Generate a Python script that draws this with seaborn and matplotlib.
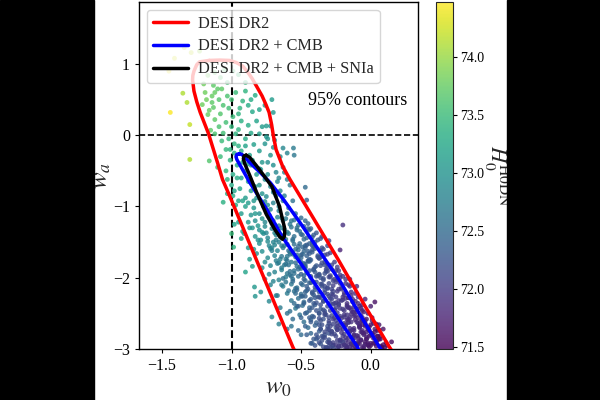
import matplotlib
matplotlib.use("Agg")
import matplotlib.pyplot as plt
from matplotlib.patches import Rectangle
import pandas as pd
import seaborn as sns

sns.set_style("ticks")
plt.rcParams["font.family"] = ["Liberation Serif", "DejaVu Serif"]
plt.rcParams["mathtext.fontset"] = "stix"

# MCMC-like samples: one row of each list per group of ten points
w0 = [
    -1.44, -1.41, -1.45, -1.34, -1.29, -1.23, -1.35, -1.32, -1.30, -1.30,
    -1.14, -1.12, -1.07, -1.18, -1.14, -1.19, -1.13, -1.09, -1.17, -1.21,
    -1.12, -1.05, -0.99, -1.17, -1.08, -0.95, -1.20, -1.13, -1.03, -0.90,
    -0.97, -0.90, -0.83, -0.92, -0.86, -0.71, -0.94, -0.85, -0.75, -0.70,
    -1.06, -1.02, -1.08, -1.12, -1.04, -0.99, -1.09, -1.00, -1.15, -1.06,
    -0.93, -0.88, -0.82, -0.78, -0.72, -0.95, -0.86, -0.80, -0.90, -0.75,
    -1.07, -1.02, -0.98, -1.04, -0.98, -1.08, -1.01, -1.10, -1.04, -0.96,
    -0.90, -0.84, -0.76, -0.70, -0.80, -0.72, -0.65, -0.60, -0.555, -0.55,
    -0.85, -0.78, -0.70, -0.63, -0.90, -0.82, -0.74, -0.66, -0.96, -0.88,
    -1.00, -0.94, -0.86, -0.80, -0.72, -0.65, -0.58, -0.90, -0.82, -0.75,
    -1.06, -0.97, -0.90, -0.84, -0.77, -0.70, -0.63, -0.56, -0.93, -0.86,
    -0.80, -0.73, -0.66, -0.60, -0.54, -0.88, -0.83, -0.76, -0.70, -0.63,
    -0.47, -0.46, -0.20, -0.22, 0.03, 0.15, 0.12, -0.985, -1.00, -0.90,
    -0.835, -0.83, -0.79, -0.73, -0.71, -0.66, -0.57, -0.87, -0.85, -0.93,
    -0.85, -0.80, -0.76, -0.71, -0.66, -0.62, -0.57, -0.53, -0.48, -0.43,
    -0.83, -0.77, -0.74, -0.68, -0.65, -0.59, -0.55, -0.50, -0.46, -0.41,
    -0.80, -0.74, -0.69, -0.66, -0.60, -0.56, -0.51, -0.47, -0.42, -0.38,
    -0.78, -0.72, -0.67, -0.63, -0.58, -0.54, -0.49, -0.45, -0.40, -0.36,
    -0.74, -0.69, -0.65, -0.60, -0.56, -0.52, -0.46, -0.43, -0.38, -0.33,
    -0.72, -0.66, -0.62, -0.57, -0.53, -0.48, -0.44, -0.39, -0.35, -0.31,
    -0.69, -0.64, -0.60, -0.55, -0.50, -0.46, -0.41, -0.37, -0.32, -0.28,
    -0.66, -0.61, -0.56, -0.52, -0.47, -0.43, -0.38, -0.34, -0.30, -0.26,
    -0.63, -0.57, -0.53, -0.49, -0.44, -0.40, -0.35, -0.31, -0.27, -0.22,
    -0.60, -0.55, -0.50, -0.46, -0.41, -0.37, -0.33, -0.28, -0.24, -0.19,
    -0.57, -0.52, -0.48, -0.43, -0.38, -0.34, -0.29, -0.25, -0.20, -0.16,
    -0.54, -0.49, -0.44, -0.40, -0.36, -0.31, -0.27, -0.22, -0.17, -0.12,
    -0.51, -0.46, -0.42, -0.37, -0.33, -0.28, -0.24, -0.19, -0.14, -0.10,
    -0.48, -0.43, -0.39, -0.34, -0.30, -0.25, -0.21, -0.16, -0.11, -0.07,
    -0.45, -0.40, -0.36, -0.31, -0.27, -0.22, -0.18, -0.13, -0.08, -0.04,
    -0.43, -0.37, -0.33, -0.28, -0.24, -0.19, -0.15, -0.10, -0.06, -0.01,
    -0.39, -0.34, -0.30, -0.25, -0.21, -0.16, -0.12, -0.07, -0.03, 0.02,
    -0.36, -0.31, -0.27, -0.22, -0.18, -0.13, -0.09, -0.05, 0.00, 0.04,
    -0.32, -0.27, -0.24, -0.19, -0.15, -0.11, -0.06, -0.02, 0.03, 0.07,
    -0.30, -0.25, -0.20, -0.16, -0.12, -0.08, -0.04, 0.01, 0.05, 0.09,
    -0.27, -0.22, -0.17, -0.13, -0.09, -0.05, -0.01, 0.03, 0.07, 0.11,
    # second batch of samples
    -0.62, -0.98, -0.76, -0.68, -0.92, -0.60, -0.84, -0.74, -0.66, -0.59,
    -1.00, -0.95, -0.88, -0.80, -0.76, -1.10, -1.03, -1.16, -1.12, -0.97,
    -0.93, -0.87, -0.74, -0.69, -0.63, -1.03, -1.16, -0.92, -0.99, -0.79,
    -0.81, -0.71, -0.64, -0.57, -0.50, -0.92, -0.78, -0.69, -0.52, -0.45,
    -0.79, -0.73, -0.61, -0.51, -0.44, -0.70, -0.63, -0.48, -0.39, -0.84,
    -0.71, -0.64, -0.58, -0.52, -0.44, -0.36, -0.76, -0.61, -0.49, -0.41,
    -0.68, -0.59, -0.54, -0.42, -0.34, -0.73, -0.64, -0.50, -0.37, -0.31,
    -0.70, -0.58, -0.51, -0.45, -0.36, -0.29, -0.64, -0.55, -0.47, -0.33,
    -0.61, -0.54, -0.48, -0.40, -0.32, -0.26, -0.67, -0.43, -0.36, -0.24,
    -0.59, -0.50, -0.45, -0.39, -0.29, -0.23, -0.55, -0.42, -0.33, -0.20,
    -0.53, -0.47, -0.36, -0.31, -0.25, -0.18, -0.58, -0.41, -0.27, -0.15,
    -0.56, -0.44, -0.39, -0.30, -0.23, -0.14, -0.50, -0.34, -0.21, -0.11,
    -0.47, -0.41, -0.32, -0.26, -0.20, -0.13, -0.52, -0.36, -0.17, -0.08,
    -0.46, -0.35, -0.29, -0.23, -0.16, -0.09, -0.41, -0.27, -0.12, -0.05,
    -0.43, -0.38, -0.26, -0.19, -0.14, -0.06, -0.33, -0.22, -0.10, -0.03,
    -0.40, -0.30, -0.24, -0.17, -0.11, -0.04, -0.35, -0.20, -0.08, 0.00,
    -0.37, -0.28, -0.21, -0.15, -0.08, -0.02, -0.32, -0.18, -0.05, 0.03,
    -0.34, -0.29, -0.22, -0.12, -0.06, 0.01, -0.25, -0.16, -0.03, 0.05,
    -0.31, -0.23, -0.14, -0.07, -0.01, 0.06, -0.27, -0.18, -0.10, 0.02,
    -0.35, -0.28, -0.17, -0.10, -0.04, 0.08, -0.21, -0.13, -0.02, 0.10,
    -0.60, -0.50, -0.42, -0.30, -0.18, -0.10, -0.24, -0.15, -0.33, -0.06,
    # third batch of samples
    -0.72, -0.67, -0.61, -0.55, -0.78, -0.69, -0.58, -0.47, -0.83, -0.64,
    -0.60, -0.53, -0.45, -0.75, -0.68, -0.56, -0.49, -0.42, -0.81, -0.62,
    -0.55, -0.47, -0.40, -0.35, -0.71, -0.64, -0.56, -0.50, -0.44, -0.37,
    -0.31, -0.67, -0.61, -0.54, -0.47, -0.40, -0.33, -0.28, -0.58, -0.50,
    -0.44, -0.37, -0.31, -0.25, -0.63, -0.56, -0.48, -0.41, -0.34, -0.27,
    -0.22, -0.53, -0.46, -0.40, -0.35, -0.28, -0.21, -0.16, -0.49, -0.42,
    -0.37, -0.31, -0.25, -0.19, -0.14, -0.09, -0.52, -0.44, -0.36, -0.29,
    -0.23, -0.17, -0.11, -0.06, -0.47, -0.39, -0.33, -0.26, -0.19, -0.13,
    -0.07, -0.02, -0.43, -0.37, -0.30, -0.23, -0.16, -0.09, -0.04, 0.01,
    -0.36, -0.29, -0.24, -0.18, -0.12, -0.06, -0.01, 0.04, -0.39, -0.33,
    -0.26, -0.20, -0.15, -0.09, -0.03, 0.02, 0.06, -0.30, -0.24, -0.19,
    -0.13, -0.08, -0.03, 0.00, 0.05, 0.09, -0.29, -0.23, -0.17, -0.11,
    -0.99, -0.93, -0.86, -0.80, -0.74, -0.68, -1.01, -0.95, -0.89, -0.83,
    -1.03, -0.95, -0.88, -0.78, -0.70, -0.62, -0.95, -0.87, -0.76, -0.67,
    -0.98, -0.91, -0.88, -0.82, -0.78, -0.76, -0.72, -0.68, -0.65, -0.60,
    # fourth batch of samples
    -0.52, -0.46, -0.42, -0.50, -0.44, -0.38, -0.47, -0.41, -0.36, -0.31,
    -0.39, -0.33, -0.29, -0.36, -0.30, -0.24, -0.33, -0.27, -0.21, -0.18,
    -0.28, -0.23, -0.18, -0.13, -0.25, -0.20, -0.15, -0.10, -0.22, -0.17,
    -0.12, -0.07, -0.19, -0.14, -0.09, -0.04, -0.12, -0.07, -0.02, 0.00,
    -0.59, -0.53, -0.48, -0.60, -0.52, -0.45, -0.57, -0.50, -0.43, -0.54,
    -0.47, -0.40, -0.48, -0.42, -0.34, -0.44, -0.37, -0.30, -0.37, -0.31,
    0.02, 0.05, 0.07, -0.02, 0.04, 0.08, 0.06, -0.05, -0.09, -0.14,
    -0.42, -0.35, -0.30, -0.22, -0.15, -0.10, -0.16, -0.04, 0.00, -0.06,
]
wa = [
    0.32, 1.08, 0.90, 1.23, 1.16, 1.18, 0.59, 0.46, 0.15, -0.34,
    0.55, 0.60, 0.65, 0.50, 0.46, 0.60, 0.39, 0.50, 0.29, 0.43,
    0.88, 0.92, 0.90, 0.84, 0.81, 0.85, 0.72, 0.70, 0.74, 0.74,
    0.60, 0.62, 0.56, 0.48, 0.50, 0.50, 0.38, 0.33, 0.13, 0.32,
    0.42, 0.38, 0.30, 0.22, 0.18, 0.26, 0.12, 0.12, 0.07, 0.03,
    0.20, 0.14, 0.20, 0.12, 0.13, 0.08, 0.03, 0.02, -0.05, -0.02,
    -0.08, -0.05, -0.12, -0.20, -0.25, -0.30, -0.35, -0.45, -0.50, -0.42,
    -0.15, -0.13, -0.12, -0.17, -0.22, -0.28, -0.30, -0.25, -0.18, -0.28,
    -0.35, -0.38, -0.42, -0.45, -0.50, -0.55, -0.55, -0.60, -0.60, -0.65,
    -0.70, -0.75, -0.78, -0.70, -0.72, -0.78, -0.70, -0.88, -0.88, -0.86,
    -0.94, -0.98, -1.00, -1.02, -1.00, -0.95, -0.92, -0.92, -1.10, -1.12,
    -1.10, -1.12, -1.06, -1.10, -1.10, -1.22, -1.20, -1.22, -1.20, -1.20,
    -0.73, -0.91, -1.26, -1.61, -2.34, -2.90, -2.95, -1.57, -1.38, -1.92,
    -2.13, -2.26, -2.20, -2.33, -2.55, -2.65, -2.68, -1.74, -1.84, -1.45,
    -1.30, -1.33, -1.28, -1.31, -1.27, -1.32, -1.29, -1.33, -1.28, -1.31,
    -1.42, -1.38, -1.44, -1.40, -1.43, -1.38, -1.42, -1.39, -1.44, -1.40,
    -1.52, -1.49, -1.54, -1.50, -1.53, -1.48, -1.52, -1.55, -1.50, -1.47,
    -1.63, -1.59, -1.62, -1.58, -1.64, -1.60, -1.57, -1.63, -1.59, -1.62,
    -1.72, -1.69, -1.74, -1.70, -1.67, -1.73, -1.69, -1.75, -1.71, -1.68,
    -1.83, -1.79, -1.82, -1.78, -1.84, -1.80, -1.77, -1.83, -1.79, -1.81,
    -1.92, -1.89, -1.94, -1.90, -1.87, -1.93, -1.89, -1.95, -1.91, -1.88,
    -2.03, -1.99, -2.02, -1.98, -2.04, -2.00, -1.97, -2.03, -1.99, -2.02,
    -2.12, -2.09, -2.14, -2.10, -2.07, -2.13, -2.09, -2.15, -2.11, -2.08,
    -2.22, -2.19, -2.23, -2.18, -2.24, -2.20, -2.17, -2.23, -2.19, -2.21,
    -2.32, -2.29, -2.34, -2.30, -2.27, -2.33, -2.29, -2.35, -2.31, -2.28,
    -2.43, -2.39, -2.42, -2.38, -2.44, -2.40, -2.37, -2.43, -2.39, -2.41,
    -2.52, -2.49, -2.54, -2.50, -2.47, -2.53, -2.49, -2.55, -2.51, -2.48,
    -2.62, -2.59, -2.63, -2.58, -2.64, -2.60, -2.57, -2.63, -2.59, -2.61,
    -2.70, -2.67, -2.72, -2.68, -2.65, -2.71, -2.67, -2.73, -2.69, -2.66,
    -2.78, -2.75, -2.80, -2.76, -2.73, -2.79, -2.75, -2.81, -2.77, -2.74,
    -2.86, -2.83, -2.87, -2.82, -2.88, -2.84, -2.81, -2.87, -2.83, -2.85,
    -2.93, -2.90, -2.95, -2.91, -2.88, -2.94, -2.90, -2.96, -2.92, -2.89,
    -2.98, -2.95, -2.99, -2.94, -2.97, -2.93, -2.98, -2.95, -2.92, -2.96,
    -2.78, -2.70, -2.90, -2.62, -2.85, -2.68, -2.93, -2.60, -2.82, -2.72,
    -2.99, -2.88, -2.96, -2.84, -2.92, -2.80, -2.97, -2.76, -2.86, -2.91,
    # second batch of samples
    -0.52, -0.78, -0.62, -0.85, -0.38, -0.62, -0.92, -0.98, -1.00, -1.02,
    0.50, 0.30, 0.42, 0.36, 0.42, 0.65, 0.55, 0.35, 0.02, 0.02,
    -0.22, -0.28, -0.05, -0.07, -0.18, -0.62, -0.36, -0.92, -0.85, -0.48,
    -1.27, -1.24, -1.16, -1.20, -1.16, -1.35, -1.36, -1.37, -1.26, -1.24,
    -1.47, -1.55, -1.46, -1.35, -1.33, -1.50, -1.41, -1.46, -1.37, -1.60,
    -1.58, -1.55, -1.67, -1.61, -1.52, -1.45, -1.78, -1.74, -1.67, -1.56,
    -1.76, -1.82, -1.71, -1.64, -1.60, -1.95, -1.86, -1.78, -1.73, -1.55,
    -2.05, -1.96, -1.85, -1.77, -1.71, -1.65, -2.10, -1.94, -1.86, -1.82,
    -2.06, -2.15, -1.97, -1.92, -1.88, -1.78, -2.25, -2.07, -2.00, -1.85,
    -2.18, -2.26, -2.16, -2.06, -1.97, -1.90, -2.36, -2.20, -2.12, -1.98,
    -2.40, -2.26, -2.28, -2.14, -2.06, -2.02, -2.47, -2.36, -2.24, -2.12,
    -2.58, -2.46, -2.35, -2.26, -2.16, -2.25, -2.56, -2.45, -2.32, -2.22,
    -2.68, -2.55, -2.52, -2.36, -2.27, -2.30, -2.74, -2.60, -2.41, -2.40,
    -2.80, -2.66, -2.46, -2.38, -2.42, -2.36, -2.86, -2.58, -2.48, -2.48,
    -2.92, -2.84, -2.56, -2.52, -2.45, -2.56, -2.76, -2.66, -2.62, -2.58,
    -2.95, -2.73, -2.68, -2.59, -2.53, -2.64, -2.88, -2.72, -2.70, -2.66,
    -2.91, -2.79, -2.77, -2.71, -2.66, -2.70, -2.98, -2.84, -2.78, -2.72,
    -2.97, -2.92, -2.87, -2.80, -2.74, -2.78, -2.94, -2.90, -2.86, -2.82,
    -2.99, -2.96, -2.93, -2.88, -2.82, -2.86, -2.91, -2.95, -2.98, -2.92,
    -2.82, -2.75, -2.98, -2.94, -2.90, -2.97, -2.96, -2.99, -2.94, -2.98,
    -2.72, -2.80, -2.92, -2.96, -2.99, -2.99, -2.64, -2.56, -2.52, -2.60,
    # third batch of samples
    -1.04, -1.15, -1.17, -1.19, -1.17, -1.25, -1.25, -1.20, -1.10, -1.30,
    -1.36, -1.30, -1.31, -1.37, -1.47, -1.46, -1.40, -1.43, -1.47, -1.55,
    -1.53, -1.58, -1.50, -1.58, -1.62, -1.70, -1.65, -1.72, -1.66, -1.72,
    -1.67, -1.80, -1.81, -1.79, -1.81, -1.85, -1.78, -1.82, -1.91, -1.95,
    -1.90, -1.96, -1.91, -1.90, -2.01, -2.05, -2.02, -2.06, -2.01, -2.04,
    -2.00, -2.17, -2.12, -2.17, -2.12, -2.16, -2.14, -2.10, -2.26, -2.22,
    -2.27, -2.23, -2.27, -2.24, -2.20, -2.27, -2.40, -2.32, -2.38, -2.36,
    -2.32, -2.36, -2.33, -2.38, -2.50, -2.46, -2.50, -2.45, -2.46, -2.48,
    -2.43, -2.50, -2.62, -2.57, -2.61, -2.56, -2.58, -2.56, -2.60, -2.56,
    -2.72, -2.68, -2.73, -2.66, -2.71, -2.66, -2.69, -2.65, -2.80, -2.84,
    -2.79, -2.82, -2.76, -2.82, -2.76, -2.81, -2.73, -2.91, -2.88, -2.94,
    -2.88, -2.93, -2.86, -2.95, -2.87, -2.94, -2.98, -2.97, -2.99, -2.97,
    -0.55, -0.60, -0.42, -0.47, -0.38, -0.52, -0.20, -0.15, -0.41, -0.72,
    -0.82, -0.92, -0.95, -0.82, -0.80, -0.85, -1.22, -1.30, -0.93, -0.65,
    -1.25, -1.38, -1.58, -1.66, -1.86, -2.02, -2.10, -2.25, -2.42, -2.50,
    # fourth batch of samples
    -1.56, -1.54, -1.61, -1.68, -1.74, -1.69, -1.84, -1.88, -1.83, -1.86,
    -1.98, -1.94, -1.99, -2.09, -2.08, -2.03, -2.21, -2.19, -2.16, -2.08,
    -2.30, -2.37, -2.29, -2.34, -2.42, -2.44, -2.42, -2.44, -2.54, -2.52,
    -2.54, -2.53, -2.64, -2.62, -2.64, -2.68, -2.74, -2.76, -2.72, -2.80,
    -1.62, -1.68, -1.63, -1.76, -1.88, -1.76, -1.98, -2.08, -1.98, -2.22,
    -2.20, -2.28, -2.36, -2.42, -2.33, -2.56, -2.50, -2.56, -2.66, -2.72,
    -2.64, -2.74, -2.82, -2.92, -2.96, -2.99, -2.66, -2.99, -2.85, -2.93,
    -1.55, -1.42, -1.48, -1.96, -2.02, -2.12, -2.28, -2.30, -2.40, -2.46,
]
h0 = [
    74.45, 74.3, 74.4, 74.2, 74.2, 74.0, 74.1, 74.1, 74.2, 74.1,
    73.75, 73.75, 73.7, 73.8, 73.7, 73.8, 73.7, 73.65, 73.75, 73.8,
    73.7, 73.6, 73.55, 73.8, 73.65, 73.5, 73.8, 73.7, 73.55, 73.45,
    73.5, 73.4, 73.3, 73.4, 73.3, 73.1, 73.4, 73.25, 73.1, 73.05,
    73.6, 73.55, 73.65, 73.7, 73.55, 73.5, 73.6, 73.45, 73.7, 73.55,
    73.35, 73.3, 73.2, 73.1, 73.0, 73.4, 73.25, 73.15, 73.3, 73.05,
    73.5, 73.45, 73.4, 73.45, 73.35, 73.5, 73.4, 73.55, 73.45, 73.3,
    73.2, 73.15, 73.0, 72.95, 73.1, 73.0, 72.9, 72.8, 72.7, 72.65,
    73.15, 73.05, 72.95, 72.85, 73.2, 73.1, 72.95, 72.85, 73.3, 73.15,
    73.3, 73.2, 73.1, 73.0, 72.9, 72.8, 72.7, 73.1, 73.0, 72.9,
    73.35, 73.25, 73.15, 73.05, 72.95, 72.8, 72.7, 72.6, 73.1, 73.0,
    72.95, 72.85, 72.75, 72.65, 72.55, 73.05, 72.95, 72.85, 72.75, 72.7,
    72.5, 72.4, 71.9, 71.75, 71.6, 71.55, 71.55, 73.4, 73.5, 73.2,
    73.05, 73.0, 72.95, 72.85, 72.8, 72.75, 72.6, 73.1, 73.1, 73.2,
    73.0, 72.95, 72.9, 72.8, 72.75, 72.7, 72.6, 72.55, 72.45, 72.4,
    73.0, 72.9, 72.85, 72.8, 72.7, 72.65, 72.55, 72.5, 72.4, 72.35,
    72.95, 72.9, 72.8, 72.75, 72.65, 72.6, 72.5, 72.45, 72.35, 72.3,
    72.95, 72.85, 72.8, 72.7, 72.65, 72.55, 72.45, 72.4, 72.3, 72.2,
    72.9, 72.8, 72.75, 72.65, 72.6, 72.5, 72.4, 72.35, 72.25, 72.15,
    72.85, 72.75, 72.7, 72.65, 72.55, 72.45, 72.4, 72.3, 72.2, 72.15,
    72.8, 72.75, 72.65, 72.6, 72.5, 72.45, 72.35, 72.25, 72.15, 72.05,
    72.8, 72.7, 72.6, 72.55, 72.45, 72.4, 72.3, 72.2, 72.1, 72.05,
    72.75, 72.65, 72.55, 72.5, 72.4, 72.3, 72.2, 72.15, 72.05, 71.95,
    72.7, 72.6, 72.5, 72.45, 72.35, 72.25, 72.2, 72.1, 72.0, 71.9,
    72.65, 72.55, 72.5, 72.4, 72.3, 72.2, 72.1, 72.05, 71.95, 71.85,
    72.65, 72.55, 72.45, 72.35, 72.3, 72.2, 72.1, 72.0, 71.9, 71.85,
    72.6, 72.5, 72.4, 72.3, 72.25, 72.15, 72.05, 71.95, 71.85, 71.8,
    72.55, 72.45, 72.35, 72.25, 72.2, 72.1, 72.0, 71.9, 71.8, 71.75,
    72.5, 72.4, 72.3, 72.2, 72.1, 72.05, 71.95, 71.85, 71.75, 71.7,
    72.45, 72.35, 72.25, 72.15, 72.05, 72.0, 71.9, 71.8, 71.75, 71.65,
    72.35, 72.3, 72.2, 72.1, 72.0, 71.9, 71.85, 71.75, 71.7, 71.6,
    72.3, 72.2, 72.15, 72.05, 71.95, 71.85, 71.8, 71.75, 71.65, 71.6,
    72.2, 72.15, 72.05, 72.0, 71.9, 71.85, 71.75, 71.7, 71.6, 71.55,
    72.25, 72.2, 72.1, 72.0, 71.95, 71.85, 71.8, 71.7, 71.65, 71.6,
    72.15, 72.1, 72.0, 71.95, 71.85, 71.8, 71.7, 71.65, 71.6, 71.55,
    # second batch of samples
    72.8, 73.2, 72.95, 72.85, 73.2, 72.75, 73.05, 72.95, 72.8, 72.7,
    73.55, 73.4, 73.3, 73.2, 73.1, 73.7, 73.6, 73.75, 73.6, 73.4,
    73.3, 73.2, 73.0, 72.95, 72.85, 73.4, 73.65, 73.2, 73.3, 73.05,
    73.05, 72.9, 72.8, 72.65, 72.5, 73.2, 73.0, 72.85, 72.55, 72.4,
    72.95, 72.85, 72.7, 72.55, 72.4, 72.8, 72.7, 72.5, 72.3, 73.0,
    72.8, 72.7, 72.6, 72.5, 72.4, 72.25, 72.9, 72.7, 72.5, 72.35,
    72.75, 72.6, 72.55, 72.35, 72.2, 72.8, 72.7, 72.45, 72.25, 72.15,
    72.8, 72.6, 72.45, 72.4, 72.2, 72.1, 72.7, 72.55, 72.4, 72.2,
    72.65, 72.55, 72.45, 72.3, 72.15, 72.05, 72.7, 72.35, 72.25, 72.05,
    72.6, 72.45, 72.35, 72.25, 72.1, 72.0, 72.5, 72.3, 72.15, 71.95,
    72.5, 72.4, 72.2, 72.15, 72.05, 71.95, 72.55, 72.3, 72.05, 71.85,
    72.5, 72.35, 72.25, 72.1, 72.0, 71.85, 72.4, 72.2, 72.0, 71.85,
    72.4, 72.3, 72.15, 72.05, 71.95, 71.85, 72.45, 72.2, 71.95, 71.8,
    72.35, 72.2, 72.1, 72.0, 71.9, 71.8, 72.3, 72.05, 71.85, 71.75,
    72.3, 72.25, 72.05, 71.95, 71.9, 71.75, 72.15, 72.0, 71.85, 71.7,
    72.25, 72.1, 72.0, 71.9, 71.85, 71.7, 72.2, 71.95, 71.8, 71.65,
    72.2, 72.1, 71.95, 71.9, 71.8, 71.7, 72.15, 71.95, 71.75, 71.65,
    72.15, 72.1, 72.0, 71.85, 71.75, 71.65, 72.0, 71.9, 71.7, 71.6,
    72.1, 72.0, 71.85, 71.75, 71.7, 71.6, 72.05, 71.9, 71.8, 71.65,
    72.2, 72.1, 71.9, 71.8, 71.7, 71.55, 71.95, 71.85, 71.7, 71.55,
    72.6, 72.5, 72.35, 72.15, 71.95, 71.8, 72.05, 71.9, 72.2, 71.75,
    # third batch of samples
    72.85, 72.8, 72.7, 72.6, 73.0, 72.8, 72.65, 72.45, 73.05, 72.75,
    72.7, 72.55, 72.4, 72.85, 72.75, 72.55, 72.45, 72.35, 72.95, 72.65,
    72.55, 72.4, 72.3, 72.2, 72.75, 72.65, 72.5, 72.45, 72.35, 72.2,
    72.1, 72.7, 72.6, 72.5, 72.4, 72.3, 72.15, 72.1, 72.55, 72.4,
    72.35, 72.25, 72.15, 72.05, 72.6, 72.5, 72.4, 72.3, 72.2, 72.1,
    72.0, 72.45, 72.35, 72.3, 72.2, 72.1, 71.95, 71.9, 72.4, 72.3,
    72.2, 72.15, 72.05, 71.95, 71.9, 71.8, 72.4, 72.3, 72.2, 72.1,
    72.0, 71.9, 71.85, 71.75, 72.35, 72.25, 72.15, 72.05, 71.95, 71.85,
    71.8, 71.7, 72.3, 72.2, 72.1, 72.0, 71.9, 71.8, 71.75, 71.65,
    72.2, 72.1, 72.05, 71.95, 71.85, 71.75, 71.7, 71.6, 72.25, 72.15,
    72.1, 72.0, 71.9, 71.85, 71.75, 71.65, 71.6, 72.1, 72.05, 71.95,
    71.85, 71.75, 71.7, 71.65, 71.6, 71.55, 72.1, 72.0, 71.9, 71.8,
    73.3, 73.2, 73.1, 73.0, 72.95, 72.85, 73.4, 73.35, 73.15, 73.05,
    73.3, 73.2, 73.1, 73.0, 72.85, 72.75, 73.1, 73.05, 72.95, 72.85,
    73.2, 73.1, 73.05, 72.95, 72.9, 72.85, 72.8, 72.75, 72.7, 72.6,
    # fourth batch of samples
    72.45, 72.35, 72.3, 72.4, 72.35, 72.25, 72.4, 72.3, 72.2, 72.15,
    72.25, 72.2, 72.1, 72.2, 72.15, 72.05, 72.15, 72.1, 72.0, 71.95,
    72.1, 72.05, 71.95, 71.9, 72.05, 72.0, 71.9, 71.85, 72.0, 71.95,
    71.85, 71.8, 71.95, 71.9, 71.85, 71.75, 71.85, 71.8, 71.7, 71.7,
    72.6, 72.5, 72.45, 72.6, 72.5, 72.35, 72.55, 72.45, 72.3, 72.5,
    72.4, 72.3, 72.4, 72.3, 72.2, 72.35, 72.25, 72.15, 72.25, 72.15,
    71.65, 71.6, 71.6, 71.7, 71.6, 71.55, 71.6, 71.75, 71.8, 71.9,
    72.3, 72.2, 72.15, 72.0, 71.9, 71.85, 71.9, 71.75, 71.7, 71.75,
]

# 95% confidence contours, as traced vertices
desi_w0 = [-1.16, -1.085, -1.014, -0.965, -0.92, -0.885, -0.85, -0.815, -0.78, -0.755, -0.73, -0.712, -0.70, -0.68, -0.634, -0.58,
           -0.41, -0.235, -0.04, 0.134, 0.16, -0.54, -0.56, -0.776, -1.014, -1.065, -1.10, -1.135, -1.165, -1.195, -1.225, -1.25, -1.27,
           -1.28, -1.278, -1.27, -1.25, -1.23, -1.16]
desi_wa = [1.05, 1.055, 1.05, 1.02, 0.97, 0.89, 0.79, 0.67, 0.55, 0.44, 0.32, 0.15, 0.0, -0.20, -0.43, -0.62,
           -1.17, -1.74, -2.40, -2.97, -3.05, -3.05, -2.97, -1.96, -0.85, -0.62, -0.39, -0.17, 0.02, 0.17, 0.32, 0.47, 0.62,
           0.78, 0.84, 0.90, 0.99, 1.03, 1.05]
cmb_w0 = [-0.945, -0.925, -0.90, -0.85, -0.79, -0.72, -0.62, -0.51, -0.22, 0.062, 0.09, -0.08, -0.095, -0.36, -0.634, -0.75, -0.87, -0.93, -0.962, -0.968, -0.962, -0.945]
cmb_wa = [-0.26, -0.27, -0.32, -0.42, -0.53, -0.67, -0.92, -1.22, -2.05, -2.97, -3.05, -3.05, -2.97, -2.20, -1.43, -1.03, -0.66, -0.45, -0.34, -0.30, -0.27, -0.26]
sn_w0 = [-0.895, -0.87, -0.82, -0.77, -0.71, -0.655, -0.634, -0.62, -0.618, -0.62, -0.634, -0.655, -0.69, -0.75, -0.82, -0.87, -0.905, -0.915, -0.91, -0.895]
sn_wa = [-0.28, -0.31, -0.43, -0.56, -0.72, -1.00, -1.18, -1.29, -1.36, -1.42, -1.46, -1.42, -1.32, -1.11, -0.80, -0.56, -0.40, -0.33, -0.29, -0.28]

x_ticks = [-1.5, -1.0, -0.5, 0.0]
y_ticks = [-3, -2, -1, 0, 1]
cbar_ticks = [71.5, 72.0, 72.5, 73.0, 73.5, 74.0]

samples = pd.DataFrame({"w0": w0, "wa": wa, "h0": h0})

fig = plt.figure(figsize=(6, 4), dpi=100, facecolor="white")
ax = fig.add_axes([139 / 600, 1 - 349 / 400, 279 / 600, 347 / 400])
cax = fig.add_axes([436 / 600, 1 - 349 / 400, 17 / 600, 347 / 400])

hue_norm = plt.Normalize(71.48, 74.47)
sns.scatterplot(data=samples, x="w0", y="wa", hue="h0", palette="viridis", hue_norm=hue_norm,
                s=12, alpha=0.8, linewidth=0, legend=False, ax=ax, zorder=2)

ax.plot(desi_w0, desi_wa, color="red", lw=2.5, label="DESI DR2", zorder=3)
ax.plot(cmb_w0, cmb_wa, color="blue", lw=2.5, label="DESI DR2 + CMB", zorder=3)
ax.plot(sn_w0, sn_wa, color="black", lw=2.5, label="DESI DR2 + CMB + SNIa", zorder=4)
ax.axhline(0, color="black", ls="--", lw=1.2, zorder=1)
ax.axvline(-1, color="black", ls="--", lw=1.5, zorder=1)

ax.set_xlim(-1.665, 0.34)
ax.set_ylim(-3, 1.87)
ax.set_xticks(x_ticks, [f"\u2212{abs(t):.1f}" if t < 0 else f"{t:.1f}" for t in x_ticks])
ax.set_yticks(y_ticks, [f"\u2212{abs(t)}" if t < 0 else f"{t}" for t in y_ticks])
ax.tick_params(labelsize=11.5, length=3, width=0.8, color="black", labelcolor="black")
ax.set_xlabel(r"$w_0$", fontsize=18, labelpad=2)
ax.set_ylabel(r"$w_a$", fontsize=18, labelpad=0)
for side in ax.spines.values():
    side.set_visible(True)
    side.set_linewidth(1.0)
    side.set_color("black")

ax.text(-0.454, 0.49, "95% contours", fontsize=13, color="black", va="center", ha="left", zorder=6)

ax.legend(loc="upper left", bbox_to_anchor=(0.029, 0.977), borderaxespad=0, fontsize=11.7,
          handlelength=2.15, handletextpad=0.65, frameon=True, framealpha=0.8,
          labelspacing=0.42, borderpad=0.35)

sm = plt.cm.ScalarMappable(norm=hue_norm, cmap="viridis")
cb = fig.colorbar(sm, cax=cax, alpha=0.8, ticks=cbar_ticks)
cb.ax.tick_params(labelsize=10, length=3, width=0.8, pad=2, color="black", labelcolor="black")
cb.set_label(r"$H_0^{\mathrm{H0DN}}$", fontsize=16, rotation=270, labelpad=19)

# black margins either side of the panel
fig.add_artist(Rectangle((0, 0), 93.5 / 600, 1, transform=fig.transFigure, color="black", zorder=20))
fig.add_artist(Rectangle((507 / 600, 0), 93 / 600, 1, transform=fig.transFigure, color="black", zorder=20))

fig.savefig("out.png", dpi=100)
